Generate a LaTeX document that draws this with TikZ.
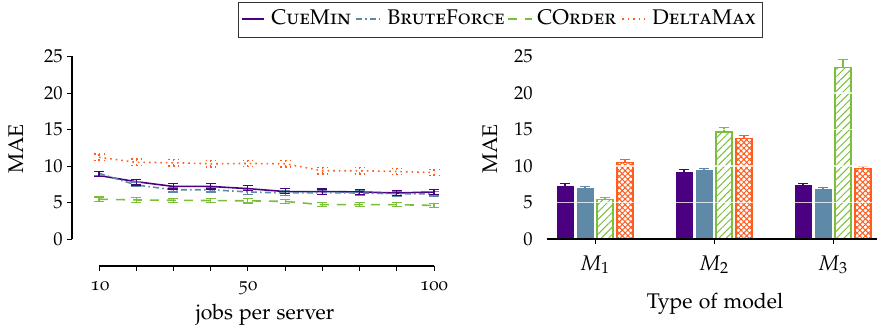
\documentclass[tikz,border=0pt]{standalone}
\usepackage[T1]{fontenc}
\usepackage[osf,sc]{mathpazo}
\usetikzlibrary{patterns.meta}

\definecolor{cmpurple}{RGB}{75,0,130}
\definecolor{bfblue}{RGB}{94,138,168}
\definecolor{cogreen}{RGB}{122,190,58}
\definecolor{dmorange}{RGB}{255,92,30}

\newcommand\tickfont{\fontsize{9.3}{11}\selectfont}
\newcommand\labfont{\fontsize{10.6}{12.5}\selectfont}

% vertical error bar with caps at both ends: style, x, value, half-range
\newcommand\errbarL[4]{%
  \draw[errbar,#1] (#2,{#3-#4}) -- (#2,{#3+#4})
    (#2,{#3-#4}) ++(-2.5pt,0pt) -- ++(5pt,0pt)
    (#2,{#3+#4}) ++(-2.5pt,0pt) -- ++(5pt,0pt);}
% one bar with an upper error bar: style, colour, centre, value, error
\newcommand\barwith[5]{%
  \draw[#1] ({#3-8},0) rectangle ({#3+8},#4);
  \draw[#2,errbar] (#3,#4) -- (#3,{#4+#5}) ++(-5,0) -- ++(10,0);}

\begin{document}
\begin{tikzpicture}[x=0.5pt,y=-0.5pt,
  axisline/.style={line width=1pt,black},
  tickline/.style={line width=0.5pt,black},
  ticklab/.style={font=\tickfont,inner sep=0pt},
  axlab/.style={font=\labfont,inner sep=0pt},
  legtext/.style={font=\labfont,inner sep=0pt},
  errbar/.style={line width=0.6pt,solid},
  cueminline/.style={cmpurple,line width=0.8pt},
  bruteline/.style={bfblue,line width=0.8pt,dash pattern=on 3pt off 1.6pt on 0.8pt off 1.6pt},
  corderline/.style={cogreen,line width=0.8pt,dash pattern=on 4.5pt off 4pt},
  deltaline/.style={dmorange,line width=0.8pt,dash pattern=on 0.8pt off 2pt},
  purplebar/.style={fill=cmpurple,draw=cmpurple,line width=0.5pt},
  bluebar/.style={fill=bfblue,draw=bfblue,line width=0.5pt},
  greenbar/.style={draw=cogreen,line width=0.6pt,
    pattern={Lines[angle=45,distance=2.6pt,line width=0.5pt]},pattern color=cogreen},
  orangebar/.style={draw=dmorange,line width=0.6pt,
    pattern={Hatch[angle=45,distance=2pt,line width=0.5pt]},pattern color=dmorange},
]
\useasboundingbox (0,0) rectangle (877,332);

% ---------------- legend ----------------
\draw[line width=0.5pt,black!80] (238,2) rectangle (762,37);
\draw[cueminline,line width=0.6pt] (242,19) -- (264,19);
\node[legtext,anchor=base west] (lgcm) at (271,25) {\textsc{CueMin}};
\draw[bruteline,line width=0.6pt] (356,19) -- (380,19);
\node[legtext,anchor=base west] (lgbf) at (387,25) {\textsc{BruteForce}};
\draw[corderline,line width=0.6pt] (508,19) -- (532,19);
\node[legtext,anchor=base west] (lgco) at (537,25) {\textsc{COrder}};
\draw[deltaline,line width=0.6pt] (622,19) -- (645,19);
\node[legtext,anchor=base west] (lgdm) at (652,25) {\textsc{DeltaMax}};

% ---------------- left plot: MAE vs jobs per server ----------------
\draw[axisline] (72,56) -- (72,239);
\foreach \t in {0,5,...,25}{
  \draw[tickline] (67,{239-\t*7.3}) -- (72,{239-\t*7.3});
  \node[ticklab,anchor=east] at (63,{239-\t*7.3}) {$\t$};
}
\draw[axisline] (99,266) -- (434,266);
\foreach \k in {0,...,9}{
  \draw[tickline] ({99+\k*335/9},266) -- ({99+\k*335/9},271);
}
\node[ticklab,anchor=base] (xl10) at (100,290) {10};
\node[ticklab,anchor=base] (xl50) at (248,290) {50};
\node[ticklab,anchor=base] (xl100) at (434,290) {100};
\node[axlab,anchor=base] (xlabL) at (265,319) {jobs per server};
\node[axlab,anchor=base,rotate=90] (ylabL) at (23,149) {MAE};

\begin{scope}[shift={(30.889pt,-119.5pt)},x=1.86111pt,y=3.65pt]
  \draw[deltaline] plot coordinates {(10,11.2) (20,10.5) (30,10.45) (40,10.3) (50,10.35)
    (60,10.3) (70,9.35) (80,9.35) (90,9.25) (100,9.1)};
  \draw[cueminline] plot coordinates {(10,8.7) (20,7.85) (30,7.2) (40,7.2) (50,6.9)
    (60,6.5) (70,6.5) (80,6.45) (90,6.3) (100,6.45)};
  \draw[bruteline] plot coordinates {(10,9.0) (20,7.4) (30,6.75) (40,6.75) (50,6.45)
    (60,6.3) (70,6.35) (80,6.3) (90,6.2) (100,6.2)};
  \draw[corderline] plot coordinates {(10,5.45) (20,5.35) (30,5.3) (40,5.27) (50,5.23)
    (60,5.15) (70,4.7) (80,4.7) (90,4.7) (100,4.6)};
  \foreach \n/\v in {10/11.2,20/10.5,30/10.45,40/10.3,50/10.35,60/10.3,70/9.35,80/9.35,90/9.25,100/9.1}
    {\errbarL{dmorange,dash pattern=on 0.8pt off 1.6pt}{\n}{\v}{0.45}}
  \foreach \n/\v in {10/9.0,20/7.5,30/6.75,40/6.75,50/6.45,60/6.3,70/6.35,80/6.3,90/6.2,100/6.2}
    {\errbarL{bfblue}{\n}{\v}{0.3}}
  \foreach \n/\v in {10/8.95,20/7.75,30/7.2,40/7.2,50/6.95,60/6.55,70/6.5,80/6.45,90/6.3,100/6.45}
    {\errbarL{cmpurple}{\n}{\v}{0.35}}
  \foreach \n/\v in {10/5.45,20/5.35,30/5.3,40/5.27,50/5.23,60/5.15,70/4.7,80/4.7,90/4.7,100/4.6}
    {\errbarL{cogreen}{\n}{\v}{0.3}}
\end{scope}

% ---------------- right plot: MAE by type of model ----------------
\foreach \t in {0,5,...,25}{
  \node[ticklab,anchor=east] at (533,{239-\t*7.3}) {$\t$};
}
\node[axlab,anchor=base,rotate=90] (ylabR) at (497,149) {MAE};

\begin{scope}[shift={(0pt,-119.5pt)},x=0.5pt,y=3.65pt]
  % M1
  \barwith{purplebar}{cmpurple}{565}{7.23}{0.32}
  \barwith{bluebar}{bfblue}{585}{6.87}{0.35}
  \barwith{greenbar}{cogreen}{605}{5.36}{0.28}
  \barwith{orangebar}{dmorange}{625}{10.44}{0.45}
  % M2
  \barwith{purplebar}{cmpurple}{684}{9.16}{0.32}
  \barwith{bluebar}{bfblue}{704}{9.4}{0.28}
  \barwith{greenbar}{cogreen}{724}{14.65}{0.6}
  \barwith{orangebar}{dmorange}{744}{13.78}{0.38}
  % M3
  \barwith{purplebar}{cmpurple}{803}{7.33}{0.25}
  \barwith{bluebar}{bfblue}{823}{6.73}{0.28}
  \barwith{greenbar}{cogreen}{843}{23.5}{1.05}
  \barwith{orangebar}{dmorange}{863}{9.62}{0.32}
  % light grid drawn over the bars
  \foreach \t in {5,10,15,20}{
    \draw[white,opacity=0.75,line width=0.6pt] (547,\t) -- (877,\t);
  }
\end{scope}

\draw[axisline] (547,239) -- (877,239);
\foreach \c in {595,714,833}{
  \draw[tickline] (\c,239) -- (\c,244);
}
\node[axlab,anchor=base] (m1) at (595,270) {$M_1$};
\node[axlab,anchor=base] (m2) at (714,270) {$M_2$};
\node[axlab,anchor=base] (m3) at (833,270) {$M_3$};
\node[axlab,anchor=base] (xlabR) at (715,308) {Type of model};
\end{tikzpicture}
\end{document}
